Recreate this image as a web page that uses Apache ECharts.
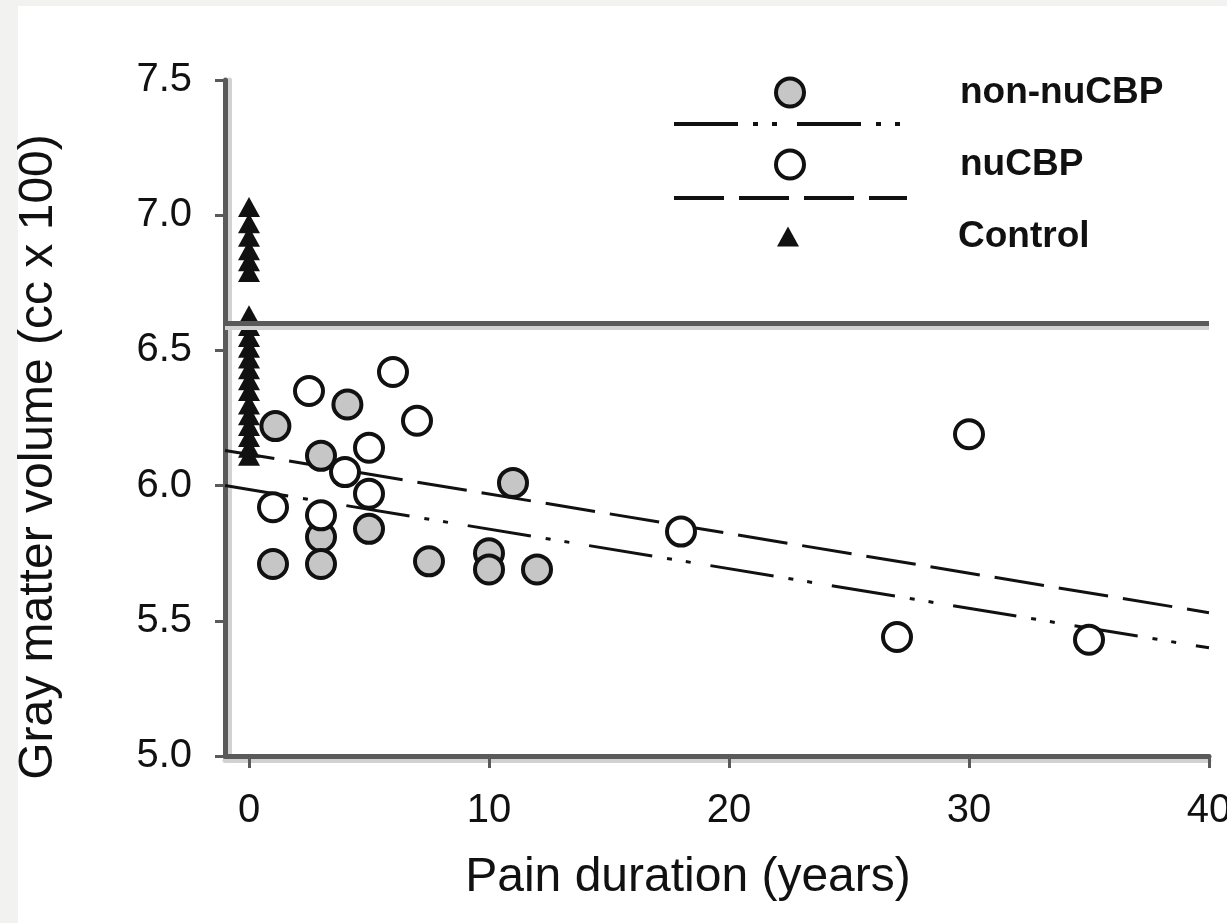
<!DOCTYPE html>
<html lang="en">
<head>
<meta charset="UTF-8">
<script src="https://cdn.jsdelivr.net/npm/echarts@6/dist/echarts.min.js"></script>
<title>Gray matter volume vs pain duration</title>
<style>
    html, body { margin: 0; padding: 0; background: #f2f2f0; }
    #panel { position: absolute; left: 18px; top: 6px; width: 1209px; height: 917px; background: #fff; }
    #main { position: absolute; left: 0; top: 0; width: 1227px; height: 923px; }
</style>
</head>
<body>
<div id="panel"></div>
<div id="main"></div>
<script type="text/javascript">
    // pain duration (years), gray matter volume (cc x 100)
    var nonNuCBP = [
        [1.1, 6.22], [4.1, 6.30], [3.0, 6.11], [3.0, 5.81], [5.0, 5.84], [1.0, 5.71],
        [3.0, 5.71], [7.5, 5.72], [10.0, 5.75], [10.0, 5.69], [12.0, 5.69], [11.0, 6.01]
    ];
    var nuCBP = [
        [2.5, 6.35], [6.0, 6.42], [7.0, 6.24], [5.0, 6.14], [4.0, 6.05], [5.0, 5.97],
        [1.0, 5.92], [3.0, 5.89], [18.0, 5.83], [30.0, 6.19], [27.0, 5.44], [35.0, 5.43]
    ];
    // controls all sit at duration 0
    var controlVolume = [
        7.03, 6.97, 6.92, 6.87, 6.83, 6.79,
        6.63, 6.59, 6.55, 6.51, 6.47, 6.43, 6.39, 6.35, 6.30, 6.26, 6.22, 6.18, 6.14, 6.11
    ];
    var controlMean = 6.6;

    // regression lines, end points
    var fitNonNuCBP = [[-1, 6.00], [40, 5.40]];
    var fitNuCBP = [[-1, 6.13], [40, 5.53]];

    var xTicks = [0, 10, 20, 30, 40];

    var font = "'Liberation Sans', Arial, sans-serif";
    var ink = '#111';
    var axisGray = '#5a5a5a';
    var dashDotDot = [64, 15, 5, 14, 5, 20];
    var dashLong = [50, 15];

    var myChart = echarts.init(document.getElementById('main'));

    // one legend block per row so that marker sits above its line like the original
    function legendRow(name, left, top, w, h, extra) {
        var o = {
            data: [name],
            left: left,
            top: top,
            padding: 0,
            itemWidth: w,
            itemHeight: h,
            selectedMode: false,
            textStyle: {
                fontFamily: font,
                fontSize: 37,
                fontWeight: 'bold',
                color: ink,
                padding: [0, 0, 0, 958 - (left + w + 5)]
            }
        };
        for (var k in extra) o[k] = extra[k];
        return o;
    }

    var option = {
        animation: false,
        grid: {
            left: 225,
            right: 18,
            top: 80,
            bottom: 167,
            outerBoundsMode: 'none'
        },
        legend: [
            legendRow('non-nuCBP', 774, 74, 28, 28, {itemStyle: {borderWidth: 4, opacity: 1}}),
            legendRow('non-nuCBP fit', 672, 119, 233, 10, {
                formatter: function () { return ''; },
                itemStyle: {opacity: 0},
                lineStyle: {color: ink, width: 4, type: dashDotDot},
                textStyle: {fontSize: 2}
            }),
            legendRow('nuCBP', 774, 146, 28, 28, {itemStyle: {borderWidth: 4, opacity: 1}}),
            legendRow('nuCBP fit', 672, 193, 233, 10, {
                formatter: function () { return ''; },
                itemStyle: {opacity: 0},
                lineStyle: {color: ink, width: 4, type: dashLong},
                textStyle: {fontSize: 2}
            }),
            legendRow('Control', 777, 218, 22, 20, {itemStyle: {opacity: 1}})
        ],
        xAxis: {
            type: 'value',
            min: -1,
            max: 40,
            name: 'Pain duration (years)',
            nameLocation: 'middle',
            nameGap: 98,
            nameTextStyle: {fontFamily: font, fontSize: 48, color: ink, padding: [0, 58, 0, 0]},
            axisLine: {
                lineStyle: {color: axisGray, width: 5, shadowColor: '#d2d2d2', shadowOffsetY: 4}
            },
            axisTick: {
                length: 12,
                customValues: xTicks,
                lineStyle: {color: axisGray, width: 3}
            },
            axisLabel: {
                customValues: xTicks,
                fontFamily: font,
                fontSize: 40,
                color: ink,
                margin: 35
            },
            splitLine: {show: false}
        },
        yAxis: {
            type: 'value',
            min: 5,
            max: 7.5,
            interval: 0.5,
            name: 'Gray matter volume (cc x 100)',
            nameLocation: 'middle',
            nameGap: 162,
            nameTextStyle: {fontFamily: font, fontSize: 48, color: ink, padding: [0, 78, 0, 0]},
            axisLine: {
                show: true,
                onZero: false,
                lineStyle: {color: axisGray, width: 5, shadowColor: '#d2d2d2', shadowOffsetX: 4}
            },
            axisTick: {
                show: true,
                length: 10,
                lineStyle: {color: axisGray, width: 3}
            },
            axisLabel: {
                fontFamily: font,
                fontSize: 40,
                color: ink,
                margin: 33,
                formatter: function (v) { return v.toFixed(1); }
            },
            splitLine: {show: false}
        },
        series: [{
            name: 'non-nuCBP fit',
            type: 'line',
            data: fitNonNuCBP,
            symbol: 'none',
            silent: true,
            z: 2,
            lineStyle: {color: ink, width: 3, type: dashDotDot}
        }, {
            name: 'nuCBP fit',
            type: 'line',
            data: fitNuCBP,
            symbol: 'none',
            silent: true,
            z: 2,
            lineStyle: {color: ink, width: 3, type: dashLong}
        }, {
            name: 'Control',
            type: 'scatter',
            data: controlVolume.map(function (v) { return [0, v]; }),
            symbol: 'triangle',
            symbolSize: [22, 20],
            z: 3,
            itemStyle: {color: ink, opacity: 1},
            markLine: {
                silent: true,
                symbol: ['none', 'none'],
                label: {show: false},
                lineStyle: {color: axisGray, width: 5, type: 'solid', shadowColor: '#d2d2d2', shadowOffsetY: 4},
                data: [{yAxis: controlMean}]
            }
        }, {
            name: 'non-nuCBP',
            type: 'scatter',
            data: nonNuCBP,
            symbol: 'circle',
            symbolSize: 28,
            z: 4,
            itemStyle: {color: '#c6c6c6', borderColor: ink, borderWidth: 4, opacity: 1}
        }, {
            name: 'nuCBP',
            type: 'scatter',
            data: nuCBP,
            symbol: 'circle',
            symbolSize: 28,
            z: 4,
            itemStyle: {color: '#ffffff', borderColor: ink, borderWidth: 4, opacity: 1}
        }]
    };

    myChart.setOption(option);
</script>
</body>
</html>
